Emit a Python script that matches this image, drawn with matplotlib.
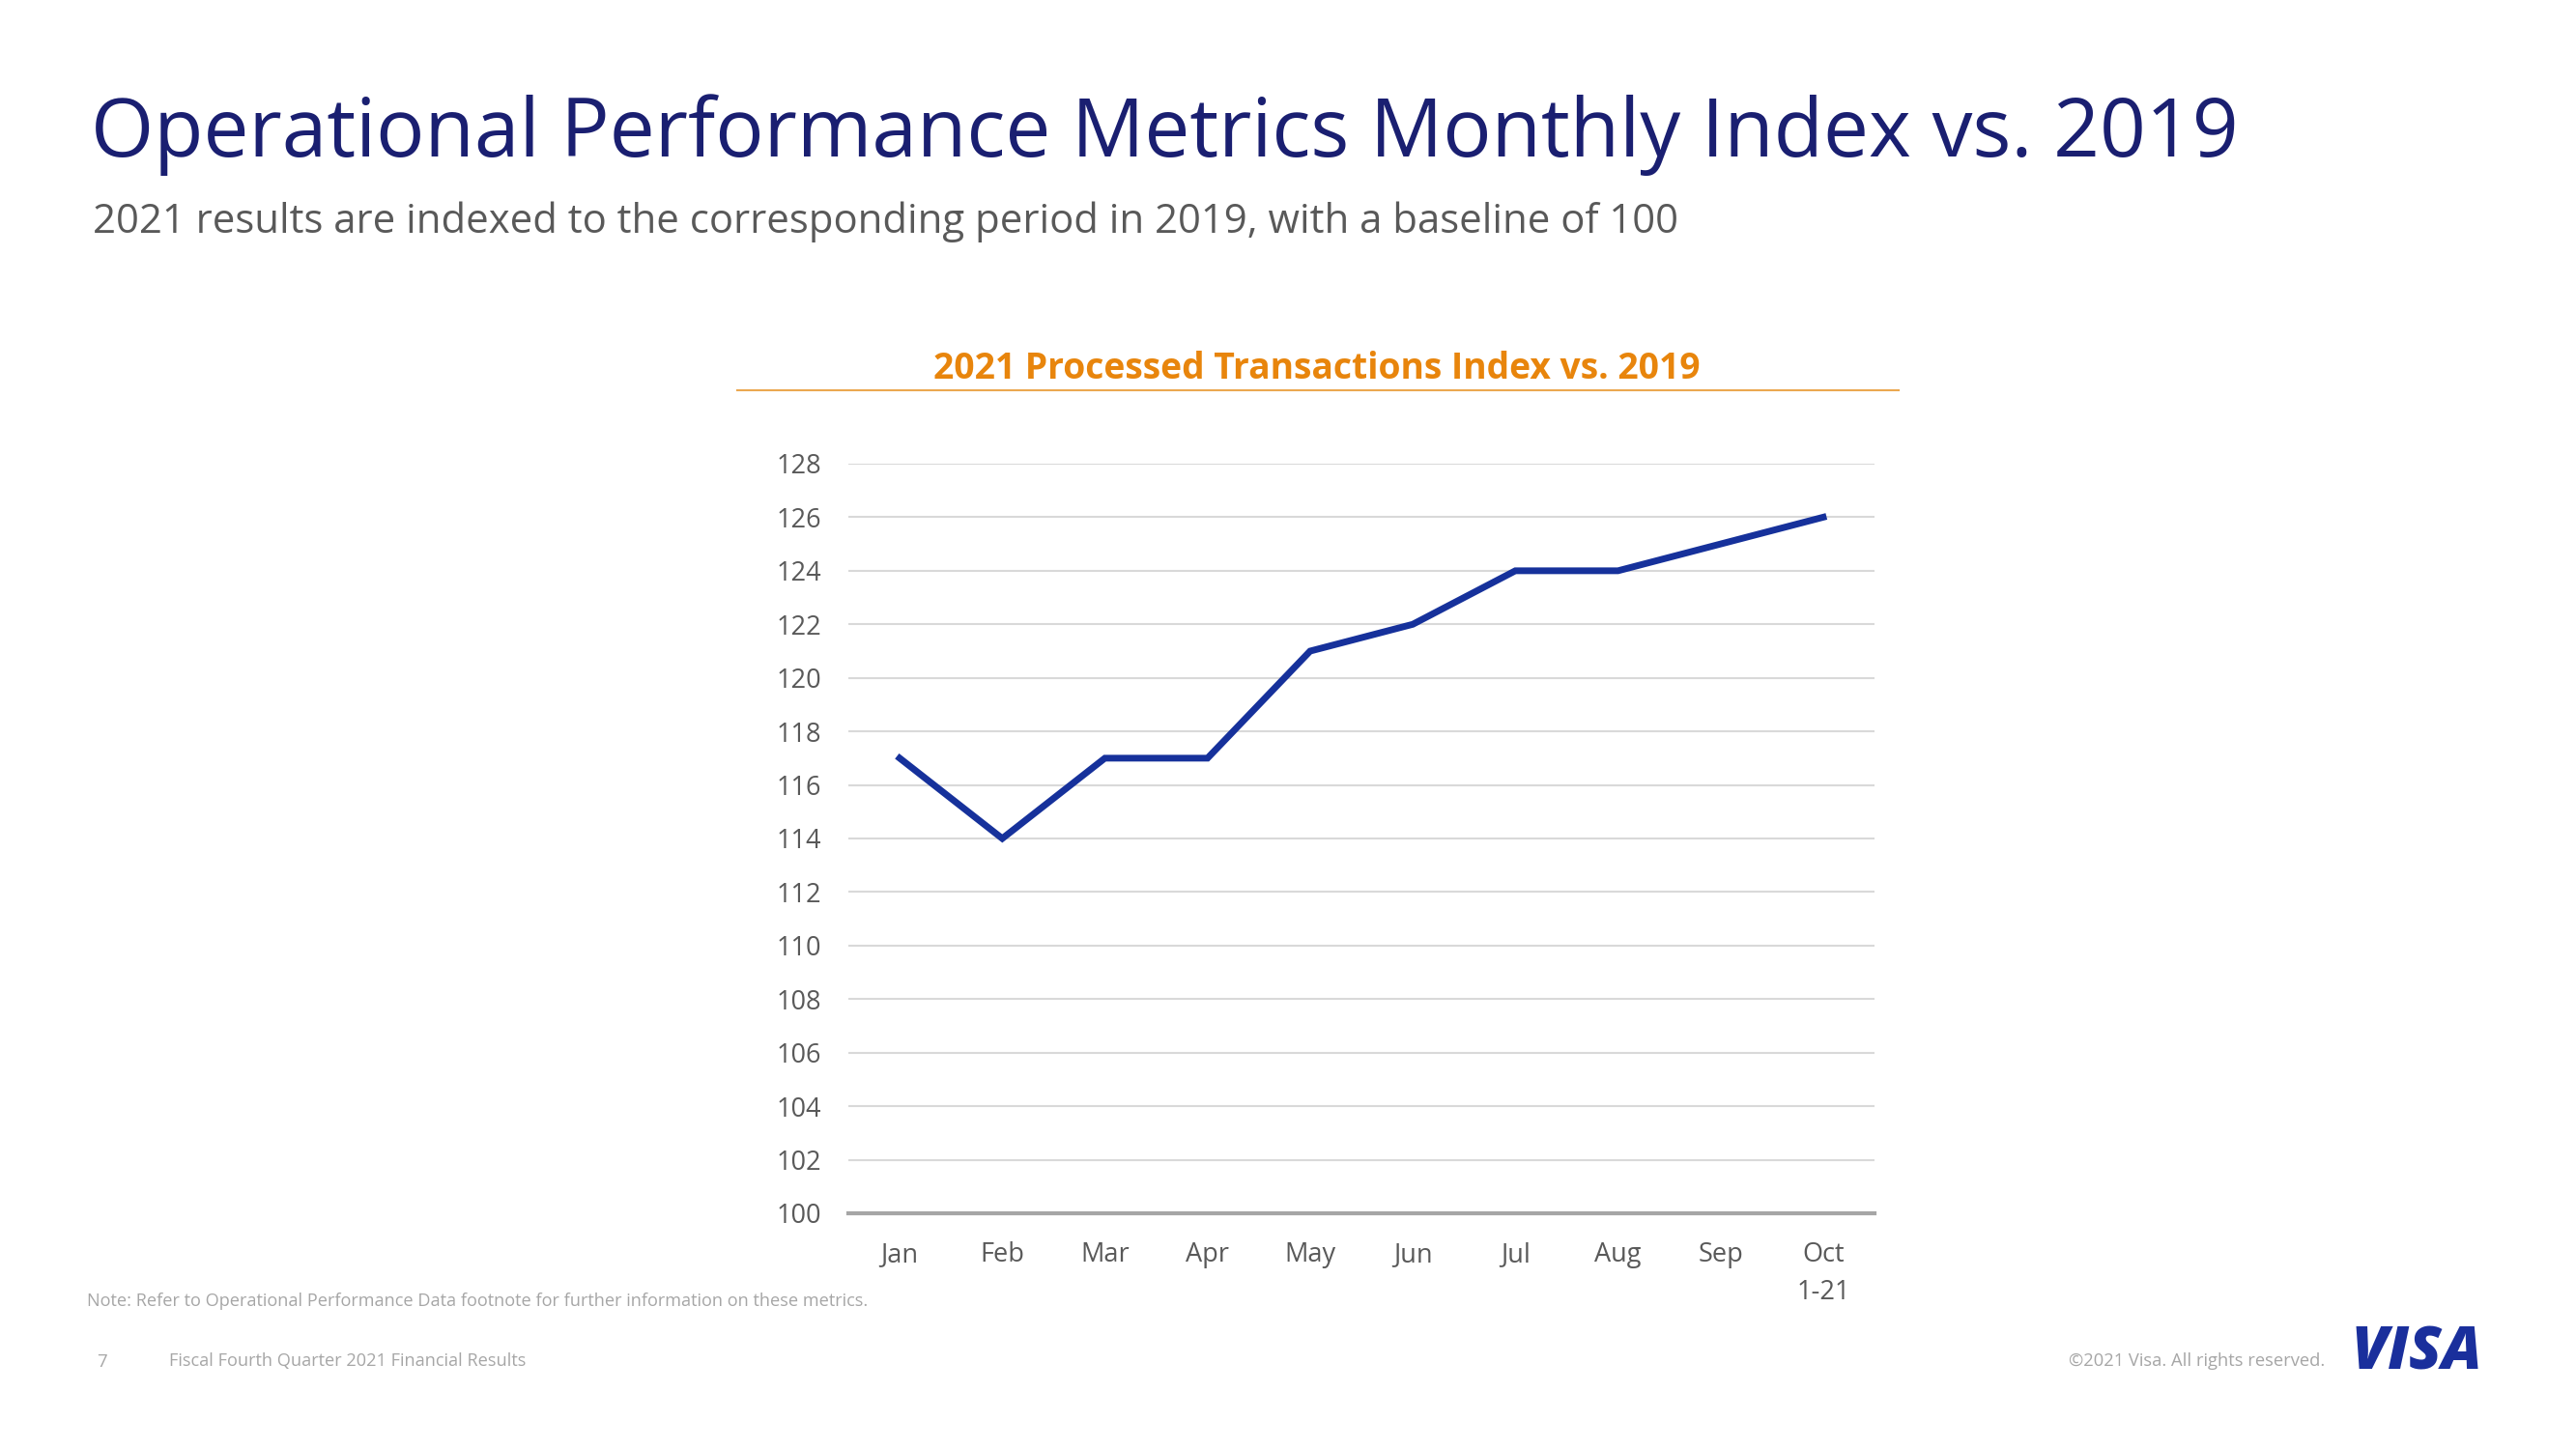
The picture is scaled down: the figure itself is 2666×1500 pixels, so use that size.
import matplotlib
matplotlib.use("Agg")
import matplotlib.pyplot as plt

months = ["Jan", "Feb", "Mar", "Apr", "May", "Jun", "Jul", "Aug", "Sep", "Oct\n1-21"]
index_values = [117, 114, 117, 117, 121, 122, 124, 124, 125, 126]
y_ticks = list(range(100, 129, 2))

FONT = ["Open Sans", "DejaVu Sans"]
plt.rcParams["font.family"] = FONT

W, H = 2666, 1500
fig = plt.figure(figsize=(W / 100, H / 100), dpi=100)
fig.patch.set_facecolor("white")

def fx(px):
    return px / W

def fy(py):
    return 1 - py / H

# Titles
fig.text(fx(94), fy(140), "Operational Performance Metrics Monthly Index vs. 2019",
         fontsize=60.3, color="#1a1f71", va="center", ha="left")
fig.text(fx(96), fy(230), "2021 results are indexed to the corresponding period in 2019, with a baseline of 100",
         fontsize=30.2, color="#595959", va="center", ha="left")

# Chart title and underline
fig.text(fx(1363), fy(382), "2021 Processed Transactions Index vs. 2019",
         fontsize=26.8, color="#E8850C", fontweight="bold", va="center", ha="center")
fig.add_artist(plt.Line2D([fx(763), fx(1965)], [fy(404), fy(404)],
                          color="#EBA850", lw=1.5, transform=fig.transFigure))

# Axes
ax = fig.add_axes([fx(878), fy(1256), fx(1940) - fx(878), fy(480) - fy(1256)])
x = list(range(len(months)))
ax.plot(x, index_values, color="#16319B", lw=5, solid_joinstyle="miter", clip_on=False, zorder=3)
ax.set_xlim(-0.5, len(months) - 0.5)
ax.set_ylim(100, 128)
ax.set_yticks(y_ticks)
ax.set_yticklabels([str(v) for v in y_ticks])
ax.set_xticks(x)
ax.set_xticklabels(months, linespacing=1.5)
for s in ax.spines.values():
    s.set_visible(False)
ax.grid(axis="y", color="#d9d9d9", lw=1.5, zorder=1)
ax.grid(axis="x", visible=False)
ax.axhline(100, color="#a6a6a6", lw=3, zorder=2, clip_on=False)
ax.tick_params(axis="both", length=0, labelsize=19.5, labelcolor="#595959")
ax.tick_params(axis="y", pad=20)
ax.tick_params(axis="x", pad=21)
ax.set_axisbelow(True)

# Footer
fig.text(fx(90), fy(1347), "Note: Refer to Operational Performance Data footnote for further information on these metrics.",
         fontsize=13.1, color="#a6a6a6", va="center", ha="left")
fig.text(fx(100), fy(1410), "7", fontsize=13.5, color="#a6a6a6", va="center", ha="left")
fig.text(fx(175), fy(1409), "Fiscal Fourth Quarter 2021 Financial Results",
         fontsize=13.1, color="#a6a6a6", va="center", ha="left")
fig.text(fx(2406), fy(1409), "\u00a92021 Visa. All rights reserved.",
         fontsize=13.2, color="#a6a6a6", va="center", ha="right")
fig.text(fx(2433), fy(1402), "VISA", fontsize=44.5, color="#1a2f9c", fontweight="heavy",
         style="italic", va="center", ha="left")

fig.savefig("out.png", dpi=100, facecolor="white")
